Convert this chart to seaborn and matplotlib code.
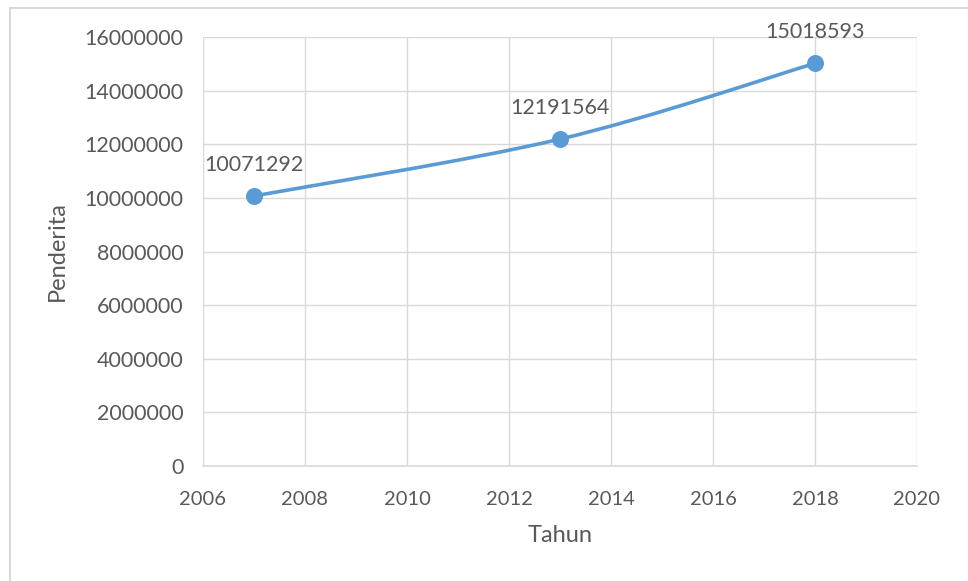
import seaborn as sns
import matplotlib.pyplot as plt
import pandas as pd
from matplotlib.path import Path
from matplotlib.patches import PathPatch, Rectangle

# data
tahun = [2007, 2013, 2018]
penderita = [10071292, 12191564, 15018593]
x_ticks = [2006, 2008, 2010, 2012, 2014, 2016, 2018, 2020]
y_ticks = [0, 2000000, 4000000, 6000000, 8000000, 10000000, 12000000, 14000000, 16000000]

df = pd.DataFrame({"Tahun": tahun, "Penderita": penderita})

sns.set_style("white")
plt.rcParams['font.family'] = ['Lato', 'DejaVu Sans']

line_color = "#5B9BD5"
text_color = "#595959"
grid_color = "#D9D9D9"

fig = plt.figure(figsize=(9.68, 5.81), dpi=100)
ax = fig.add_axes([203 / 968, 1 - 466 / 581, (917 - 203) / 968, (466 - 37) / 581])

# outer chart border like the spreadsheet frame
fig.patches.append(Rectangle((10 / 968, -0.1), 1.1, 1 - 8 / 581 + 0.1,
                             transform=fig.transFigure, fill=False,
                             edgecolor="#D9D9D9", linewidth=1.5))

# smoothed line (bezier segments built from the data points)
pts = list(zip(df["Tahun"], df["Penderita"]))
verts = [pts[0]]
codes = [Path.MOVETO]
n = len(pts)
for i in range(n - 1):
    p0 = pts[i - 1] if i > 0 else pts[i]
    p1 = pts[i]
    p2 = pts[i + 1]
    p3 = pts[i + 2] if i + 2 < n else pts[i + 1]
    c1 = (p1[0] + (p2[0] - p0[0]) / 6, p1[1] + (p2[1] - p0[1]) / 6)
    c2 = (p2[0] - (p3[0] - p1[0]) / 6, p2[1] - (p3[1] - p1[1]) / 6)
    verts += [c1, c2, p2]
    codes += [Path.CURVE4] * 3
ax.add_patch(PathPatch(Path(verts, codes), fill=False, edgecolor=line_color,
                       linewidth=2.6, capstyle="round", zorder=3))

sns.scatterplot(data=df, x="Tahun", y="Penderita", ax=ax, color=line_color,
                s=150, edgecolor=line_color, linewidth=0, zorder=4)

for x, y in zip(tahun, penderita):
    ax.annotate(str(y), (x, y), xytext=(0, 15), textcoords="offset points",
                ha="center", va="bottom", fontsize=15.5, color=text_color)

ax.set_xlim(2006, 2020)
ax.set_ylim(0, 16000000)
ax.set_xticks(x_ticks)
ax.set_yticks(y_ticks)
ax.set_xticklabels([str(t) for t in x_ticks])
ax.set_yticklabels([str(t) for t in y_ticks])
ax.tick_params(axis="x", length=0, labelsize=14.5, labelcolor=text_color, pad=18)
ax.tick_params(axis="y", length=0, labelsize=15.5, labelcolor=text_color, pad=14)
ax.grid(True, color=grid_color, linewidth=1)
ax.set_axisbelow(True)
for side in ["top", "right", "left"]:
    ax.spines[side].set_visible(False)
ax.spines["bottom"].set_color(grid_color)
ax.spines["bottom"].set_linewidth(1.2)

ax.set_xlabel("Tahun", fontsize=17, color=text_color, labelpad=12)
ax.set_ylabel("Penderita", fontsize=17, color=text_color, labelpad=12)

fig.savefig("out.png", dpi=100)
